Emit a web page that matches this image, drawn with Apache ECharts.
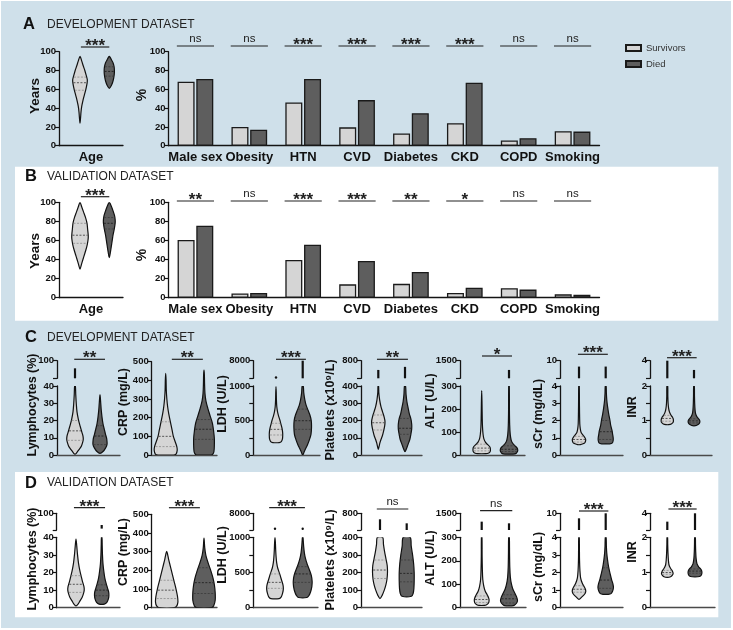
<!DOCTYPE html>
<html><head><meta charset="utf-8">
<script src="https://cdn.jsdelivr.net/npm/echarts@6/dist/echarts.min.js"></script>
<style>html,body{margin:0;padding:0;background:#fff}#c{width:733px;height:630px}</style>
</head><body><div id="c"></div><script>
// ===================== DATA =====================
const barCategories = ['Male sex','Obesity','HTN','CVD','Diabetes','CKD','COPD','Smoking'];
const devSurvivors = [68, 20, 46, 19.5, 13, 24, 5.5, 15.5];
const devDied      = [71, 17, 71, 48.5, 34.5, 67, 8, 15];
const devBarSig    = ['ns','ns','***','***','***','***','ns','ns'];
const valSurvivors = [60.5, 4.5, 39.5, 14, 14.5, 5, 10, 3.5];
const valDied      = [75.5, 5, 55.5, 38.5, 27, 10.5, 8.5, 3];
const valBarSig    = ['**','ns','***','***','**','*','ns','ns'];
const groups = ['Survivors','Died'];

// violin profiles: [value, half-width in group-spacing units]; quartiles [q1, median, q3]
const devAgeSurv = [[24,0],[30,0.02],[36,0.035],[42,0.06],[48,0.1],[54,0.15],[60,0.2],[66,0.24],[70,0.25],[75,0.21],[80,0.165],[85,0.11],[90,0.06],[95,0]];
const devAgeSurvQ = [59,67,73];
const devAgeDied = [[61,0],[64,0.07],[68,0.12],[72,0.15],[76,0.17],[80,0.175],[84,0.165],[88,0.13],[91,0.08],[94,0.03],[95,0]];
const devAgeDiedQ = [74,79,84];
const devAgeSig = '***';
const valAgeSurv = [[30,0],[35,0.05],[40,0.1],[45,0.15],[50,0.2],[56,0.25],[62,0.28],[66,0.28],[72,0.26],[78,0.24],[84,0.19],[90,0.12],[95,0.06],[100,0]];
const valAgeSurvQ = [57,65.5,78];
const valAgeDied = [[42,0],[48,0.04],[54,0.07],[60,0.1],[66,0.13],[72,0.17],[78,0.2],[82,0.2],[86,0.18],[90,0.14],[95,0.08],[100,0]];
const valAgeDiedQ = [72,78,84];
const valAgeSig = '***';

// lab variables
const labNames = ['Lymphocytes (%)','CRP (mg/L)','LDH (U/L)','Platelets (x10\u2079/L)','ALT (U/L)','sCr (mg/dL)','INR'];
const labLowerMax = [40, 500, 1000, 400, 300, 4, 2];
const labUpperMax = [100, null, 8000, 800, 1500, 10, 4];
const labTickStep = [10, 100, 250, 100, 100, 1, 0.5];
const labLabelStep = [10, 100, 500, 100, 100, 1, 1];
const devLabSig = ['**','**','***','**','*','***','***'];
const valLabSig = ['***','***','***','ns','ns','***','***'];

// development dataset
const devLymSurv = [[0.5,0],[1,0.05],[3,0.15],[5,0.25],[7,0.3],[9,0.33],[11,0.32],[13,0.28],[15,0.24],[18,0.18],[21,0.13],[25,0.08],[30,0.05],[35,0.03],[40,0.015]];
const devLymSurvQ = [8.5,14,20];
const devLymSurvUp = [40,74];
const devLymDied = [[1,0],[2,0.12],[4,0.22],[6,0.28],[8,0.28],[10,0.26],[12,0.22],[15,0.17],[18,0.12],[22,0.08],[26,0.05],[30,0.03],[35,0]];
const devLymDiedQ = [6,11,17];
const devLymDiedUp = null;
const devCrpSurv = [[0,0.2],[5,0.27],[25,0.3],[45,0.29],[70,0.25],[100,0.2],[130,0.17],[160,0.14],[190,0.11],[220,0.08],[260,0.05],[300,0.03],[350,0.015],[400,0.01],[437,0]];
const devCrpSurvQ = [45,100,178];
const devCrpDied = [[0,0.18],[5,0.23],[20,0.26],[50,0.27],[90,0.27],[130,0.25],[170,0.22],[210,0.16],[250,0.1],[290,0.05],[330,0.025],[380,0.015],[430,0.01],[455,0]];
const devCrpDiedQ = [84,138,190];
const devLdhSurv = [[180,0.12],[195,0.2],[230,0.24],[270,0.25],[320,0.25],[380,0.23],[440,0.19],[500,0.15],[560,0.1],[620,0.06],[700,0.03],[800,0.015],[900,0.01],[990,0]];
const devLdhSurvQ = [290,372,460];
const devLdhSurvUp = [1300,1300];
const devLdhDied = [[0,0],[50,0.06],[100,0.12],[150,0.18],[220,0.25],[300,0.31],[400,0.33],[500,0.32],[580,0.27],[650,0.2],[720,0.13],[800,0.08],[900,0.04],[1000,0.02]];
const devLdhDiedQ = [372,497,665];
const devLdhDiedUp = [1000,8000];
const devPltSurv = [[33,0],[50,0.03],[70,0.06],[90,0.1],[110,0.15],[140,0.2],[170,0.24],[195,0.25],[220,0.22],[250,0.16],[280,0.1],[320,0.05],[360,0.02],[400,0.01]];
const devPltSurvQ = [145,187,232];
const devPltSurvUp = [400,590];
const devPltDied = [[19,0],[35,0.05],[60,0.11],[90,0.18],[120,0.22],[150,0.25],[180,0.25],[210,0.22],[240,0.16],[270,0.12],[310,0.07],[350,0.04],[400,0.02]];
const devPltDiedQ = [120,155,212];
const devPltDiedUp = [400,660];
const devAltSurv = [[6,0.15],[9,0.26],[15,0.31],[25,0.32],[35,0.3],[45,0.22],[55,0.14],[70,0.08],[90,0.05],[120,0.03],[160,0.02],[220,0.012],[280,0]];
const devAltSurvQ = [18,30,47];
const devAltSurvUp = null;
const devAltDied = [[4,0.15],[7,0.26],[15,0.31],[22,0.32],[30,0.3],[40,0.22],[50,0.14],[65,0.08],[90,0.045],[130,0.025],[200,0.015],[300,0.01]];
const devAltDiedQ = [15,25,40];
const devAltDiedUp = [300,870];
const devScrSurv = [[0.6,0.05],[0.65,0.15],[0.72,0.22],[0.85,0.25],[0.95,0.24],[1.05,0.2],[1.15,0.15],[1.3,0.08],[1.5,0.05],[1.8,0.03],[2.5,0.02],[3.2,0.015],[4,0.01]];
const devScrSurvQ = [0.75,0.9,1.08];
const devScrSurvUp = [4,8];
const devScrDied = [[0.65,0.15],[0.7,0.25],[0.85,0.28],[1.0,0.28],[1.2,0.26],[1.4,0.24],[1.7,0.19],[2.0,0.16],[2.4,0.11],[2.8,0.07],[3.2,0.04],[3.6,0.025],[4,0.015]];
const devScrDiedQ = [0.9,1.35,2.0];
const devScrDiedUp = [4,8];
const devInrSurv = [[0.88,0.05],[0.9,0.15],[0.95,0.22],[1.0,0.23],[1.05,0.22],[1.1,0.19],[1.15,0.14],[1.25,0.08],[1.35,0.05],[1.5,0.03],[1.7,0.02],[2,0.015]];
const devInrSurvQ = [0.98,1.06,1.15];
const devInrSurvUp = [2,4];
const devInrDied = [[0.85,0.05],[0.87,0.12],[0.92,0.2],[0.97,0.22],[1.02,0.2],[1.07,0.15],[1.12,0.1],[1.2,0.06],[1.3,0.04],[1.5,0.025],[1.7,0.018],[2,0.012]];
const devInrDiedQ = [0.93,0.99,1.05];
const devInrDiedUp = [2,2.95];

// validation dataset
const valLymSurv = [[1,0],[2,0.08],[4,0.16],[6,0.24],[8,0.29],[10,0.32],[12,0.31],[15,0.25],[18,0.2],[21,0.15],[25,0.1],[30,0.06],[35,0.03],[39,0]];
const valLymSurvQ = [8.7,13.3,18.2];
const valLymSurvUp = null;
const valLymDied = [[2,0.1],[3,0.2],[5,0.26],[7,0.28],[9,0.27],[11,0.23],[14,0.17],[17,0.12],[21,0.08],[25,0.05],[30,0.03],[35,0.02],[40,0.01]];
const valLymDiedQ = [6.8,10,13];
const valLymDiedUp = [45,58];
const valCrpSurv = [[0,0.2],[10,0.27],[30,0.3],[60,0.29],[100,0.25],[140,0.2],[180,0.15],[220,0.1],[260,0.05],[290,0.02],[302,0]];
const valCrpSurvQ = [49,94,147];
const valCrpDied = [[0,0.2],[10,0.26],[40,0.3],[80,0.3],[120,0.28],[160,0.24],[200,0.18],[240,0.11],[280,0.05],[320,0.02],[373,0]];
const valCrpDiedQ = [76,134,214];
const valLdhSurv = [[130,0.15],[150,0.22],[200,0.27],[260,0.3],[320,0.29],[400,0.23],[480,0.17],[560,0.1],[640,0.06],[720,0.04],[820,0.025],[920,0.015],[1000,0]];
const valLdhSurvQ = [275,360,480];
const valLdhSurvUp = [1500,1500];
const valLdhDied = [[145,0.15],[170,0.22],[220,0.28],[300,0.33],[380,0.34],[460,0.31],[540,0.24],[620,0.16],[700,0.1],[780,0.06],[870,0.035],[950,0.02],[1000,0.01]];
const valLdhDiedQ = [360,480,583];
const valLdhDiedUp = [1500,1500];
const valPltSurv = [[52,0],[70,0.08],[100,0.16],[130,0.22],[160,0.26],[200,0.28],[240,0.27],[280,0.22],[320,0.17],[360,0.13],[400,0.1]];
const valPltSurvQ = [166,214,271];
const valPltSurvUp = [400,656];
const valPltDied = [[65,0.18],[80,0.24],[110,0.27],[150,0.28],[200,0.28],[250,0.26],[300,0.22],[350,0.17],[400,0.13]];
const valPltDiedQ = [147,195,271];
const valPltDiedUp = [400,560];
const valAltSurv = [[10,0.1],[13,0.18],[20,0.25],[30,0.27],[40,0.26],[55,0.2],[70,0.13],[90,0.08],[120,0.04],[160,0.025],[220,0.015],[300,0.01]];
const valAltSurvQ = [22,35,50];
const valAltSurvUp = [300,900];
const valAltDied = [[8,0.1],[11,0.2],[20,0.28],[30,0.31],[42,0.29],[60,0.22],[80,0.14],[100,0.09],[130,0.05],[170,0.03],[230,0.02],[300,0.012]];
const valAltDiedQ = [20,38,55];
const valAltDiedUp = [300,780];
const valScrSurv = [[0.47,0],[0.6,0.1],[0.75,0.2],[0.9,0.25],[1.05,0.24],[1.2,0.19],[1.4,0.12],[1.7,0.06],[2.1,0.035],[2.7,0.02],[3.4,0.015],[4,0.01]];
const valScrSurvQ = [0.88,1.05,1.25];
const valScrSurvUp = [4,8.2];
const valScrDied = [[0.76,0.1],[0.8,0.2],[0.95,0.26],[1.15,0.29],[1.35,0.27],[1.6,0.22],[1.9,0.17],[2.3,0.11],[2.7,0.07],[3.1,0.04],[3.5,0.025],[4,0.015]];
const valScrDiedQ = [1.1,1.57,2.27];
const valScrDiedUp = [4,10];
const valInrSurv = [[0.86,0],[0.88,0.12],[0.93,0.19],[0.98,0.21],[1.03,0.19],[1.08,0.15],[1.14,0.1],[1.22,0.06],[1.35,0.04],[1.55,0.025],[1.8,0.015],[2,0.01]];
const valInrSurvQ = [0.95,1.0,1.06];
const valInrSurvUp = [2,3];
const valInrDied = [[0.88,0.1],[0.9,0.2],[0.95,0.24],[1.0,0.25],[1.05,0.24],[1.1,0.2],[1.16,0.13],[1.25,0.07],[1.4,0.04],[1.6,0.025],[1.8,0.018],[2,0.012]];
const valInrDiedQ = [0.98,1.04,1.1];
const valInrDiedUp = [2,4];

// ===================== LAYOUT / STYLE =====================
const FONT = '"Liberation Sans", Arial, Helvetica, sans-serif';
const AX = '#141414';
const FILL_S = '#d5d5d5', FILL_D = '#5e5e5e';
const option = {animation:false, grid:[], xAxis:[], yAxis:[], series:[], graphic:[]};
const plain = function(v){ return String(v); };

function addGrid(g, xa, ya){
  option.grid.push(Object.assign({containLabel:false}, g));
  const i = option.grid.length-1;
  xa.gridIndex = i; ya.gridIndex = i;
  option.xAxis.push(xa); option.yAxis.push(ya);
  return i;
}
function yAx(min, max, interval, fmt, extra){
  return Object.assign({type:'value', min, max, interval,
    axisLine:{show:true, onZero:false, lineStyle:{color:AX, width:1.3}},
    axisTick:{show:true, length:4, lineStyle:{color:AX, width:1.2}},
    axisLabel:{color:'#111', fontWeight:'bold', fontSize:9.5, fontFamily:FONT, margin:3, formatter:fmt||plain},
    splitLine:{show:false}}, extra||{});
}
function xValAx(min, max, showLine, color, extra){
  return Object.assign({type:'value', min, max,
    axisLine:{show:showLine, onZero:false, lineStyle:{color:color||AX, width:1.3}},
    axisTick:{show:false}, axisLabel:{show:false}, splitLine:{show:false}}, extra||{});
}
function widthAt(p, v){
  for (let i=0;i<p.length-1;i++){const a=p[i],b=p[i+1]; if(v>=a[0]&&v<=b[0]) return a[1]+(b[1]-a[1])*(v-a[0])/(b[0]-a[0]);}
  return 0;
}
function violin(gi, xPos, profile, quart, fill, isDied){
  return {type:'custom', xAxisIndex:gi, yAxisIndex:gi, clip:true, silent:true, z:3,
    data:[[xPos, quart[1]]],
    renderItem:function(params, api){
      const pts=[];
      profile.forEach(function(d){pts.push(api.coord([xPos+d[1], d[0]]));});
      for(let i=profile.length-1;i>=0;i--){const d=profile[i]; if(d[1]>0) pts.push(api.coord([xPos-d[1], d[0]]));}
      const ch=[{type:'polygon', shape:{points:pts, smooth:0.3}, style:{fill:fill, stroke:'#111', lineWidth:1.2}}];
      quart.forEach(function(q,k){
        const w=widthAt(profile,q)*0.92;
        const a=api.coord([xPos-w,q]), b=api.coord([xPos+w,q]);
        ch.push({type:'line', shape:{x1:a[0],y1:a[1],x2:b[0],y2:b[1]},
          style:{stroke: k===1 ? (isDied?'#1a1a1a':'#333') : (isDied?'#3a3a3a':'#8a8a8a'), lineWidth:0.8, lineDash:[2,1.5]}});
      });
      return {type:'group', children:ch};
    }};
}
function tail(gi, xPos, t){
  return {type:'custom', xAxisIndex:gi, yAxisIndex:gi, clip:false, silent:true, z:3, data:[[xPos,t[0]]],
    renderItem:function(params, api){
      const a=api.coord([xPos,t[0]]), b=api.coord([xPos,t[1]]);
      const cs=params.coordSys;
      if (t[0]===t[1]) return {type:'circle', shape:{cx:a[0], cy:a[1], r:1.2}, style:{fill:'#111'}};
      const y1=Math.min(a[1], cs.y+cs.height);
      return {type:'line', shape:{x1:a[0],y1:y1,x2:b[0],y2:Math.max(b[1],cs.y)}, style:{stroke:'#111', lineWidth:2.2}};
    }};
}
function sigText(x, y, label){
  const star = label.indexOf('*')>=0;
  return {type:'text', x:x, y: star ? y-0.5 : y-1,
    style:{text:label, fill:'#222', fontFamily:FONT, fontSize: star?17:11.5, fontWeight: star?'bold':'normal',
      align:'center', verticalAlign: star?'middle':'bottom'}};
}
function sig(gi, x0, x1, y, label){
  return {type:'custom', xAxisIndex:gi, yAxisIndex:gi, clip:false, silent:true, z:4, data:[[x0,0]],
    renderItem:function(params, api){
      const a=api.coord([x0,0])[0], b=api.coord([x1,0])[0];
      return {type:'group', children:[
        {type:'line', shape:{x1:a,y1:y,x2:b,y2:y}, style:{stroke:'#222', lineWidth:1.2}},
        sigText((a+b)/2, y, label)]};
    }};
}
function rotTitle(x, y, text, size){
  option.graphic.push({type:'text', x:x, y:y, rotation:Math.PI/2, z:10,
    style:{text:text, fill:'#111', fontFamily:FONT, fontWeight:'bold', fontSize:size||12.5, align:'center', verticalAlign:'middle'}});
}

// backgrounds & titles
option.graphic.push({type:'rect', z:-10, shape:{x:1,y:1,width:730,height:627}, style:{fill:'#cfe0ea'}});
option.graphic.push({type:'rect', z:-9, shape:{x:15,y:166.7,width:703.3,height:154}, style:{fill:'#ffffff'}});
option.graphic.push({type:'rect', z:-9, shape:{x:15,y:472,width:703.3,height:145.3}, style:{fill:'#ffffff'}});
[['A','DEVELOPMENT DATASET',23,24.2],['B','VALIDATION DATASET',25,176.7],['C','DEVELOPMENT DATASET',25,337.5],['D','VALIDATION DATASET',25,483]].forEach(function(t){
  option.graphic.push({type:'text', x:t[2], y:t[3], z:10, style:{text:t[0], fill:'#111', fontFamily:FONT, fontWeight:'bold', fontSize:16.5, verticalAlign:'middle'}});
  option.graphic.push({type:'text', x:47, y:t[3], z:10, style:{text:t[1], fill:'#222', fontFamily:FONT, fontSize:12, verticalAlign:'middle'}});
});

// ---------- panels A & B ----------
function topPanel(top, zero, ageS, ageSQ, ageD, ageDQ, ageSig, ageSigY, surv, died, barSig, barSigY, yearsY, pctY){
  const h = zero-top;
  const gA = addGrid({left:59, top:top, width:64, height:h},
    xValAx(-0.717, 1.468, true, AX, {name:'Age', nameLocation:'middle', nameGap:5, nameMoveOverlap:false,
      nameTextStyle:{fontFamily:FONT, fontWeight:'bold', fontSize:13, color:'#111', verticalAlign:'top'}}),
    yAx(0,100,20,null));
  rotTitle(35, yearsY, 'Years', 13.5);
  option.series.push(violin(gA, 0, ageS, ageSQ, FILL_S, false));
  option.series.push(violin(gA, 1, ageD, ageDQ, FILL_D, true));
  option.series.push(sig(gA, 0.03, 1.0, ageSigY, ageSig));
  const gB = addGrid({left:168.5, top:top, width:431, height:h},
    {type:'category', data:barCategories, axisLine:{show:true, onZero:false, lineStyle:{color:AX,width:1.3}},
     axisTick:{show:false}, axisLabel:{interval:0, color:'#111', fontFamily:FONT, fontWeight:'bold', fontSize:13, margin:5}},
    yAx(0,100,20,null));
  rotTitle(142.5, pctY, '%', 14);
  option.series.push({type:'bar', name:groups[0], xAxisIndex:gB, yAxisIndex:gB, data:surv, barWidth:17, barGap:'10%',
    itemStyle:{color:FILL_S, borderColor:'#1a1a1a', borderWidth:1.3}});
  option.series.push({type:'bar', name:groups[1], xAxisIndex:gB, yAxisIndex:gB, data:died, barWidth:17, barGap:'10%',
    itemStyle:{color:FILL_D, borderColor:'#1a1a1a', borderWidth:1.3}});
  option.series.push({type:'custom', xAxisIndex:gB, yAxisIndex:gB, clip:false, silent:true, z:4,
    data: barSig.map(function(s,i){return [i,100];}),
    renderItem:function(params, api){
      const c=api.coord([api.value(0),100])[0]; const bw=api.size([1,0])[0];
      const a=c-0.345*bw, b=c+0.345*bw;
      return {type:'group', children:[{type:'line', shape:{x1:a,y1:barSigY,x2:b,y2:barSigY}, style:{stroke:'#222', lineWidth:1.2}},
        sigText(c, barSigY, barSig[params.dataIndex])]};
    }});
}
topPanel(51.7, 145.7, devAgeSurv, devAgeSurvQ, devAgeDied, devAgeDiedQ, devAgeSig, 47, devSurvivors, devDied, devBarSig, 46, 96, 95);
topPanel(202.3, 297.7, valAgeSurv, valAgeSurvQ, valAgeDied, valAgeDiedQ, valAgeSig, 196.7, valSurvivors, valDied, valBarSig, 201, 251, 255);

option.legend = {data:groups, orient:'vertical', left:620, top:38, itemWidth:15, itemHeight:6, itemGap:6, icon:'rect', selectedMode:false,
  textStyle:{fontFamily:FONT, fontSize:9.5, color:'#333'}};

// ---------- panels C & D ----------
const devProfiles = [[devLymSurv,devLymSurvQ,devLymSurvUp,devLymDied,devLymDiedQ,devLymDiedUp],
  [devCrpSurv,devCrpSurvQ,null,devCrpDied,devCrpDiedQ,null],
  [devLdhSurv,devLdhSurvQ,devLdhSurvUp,devLdhDied,devLdhDiedQ,devLdhDiedUp],
  [devPltSurv,devPltSurvQ,devPltSurvUp,devPltDied,devPltDiedQ,devPltDiedUp],
  [devAltSurv,devAltSurvQ,devAltSurvUp,devAltDied,devAltDiedQ,devAltDiedUp],
  [devScrSurv,devScrSurvQ,devScrSurvUp,devScrDied,devScrDiedQ,devScrDiedUp],
  [devInrSurv,devInrSurvQ,devInrSurvUp,devInrDied,devInrDiedQ,devInrDiedUp]];
const valProfiles = [[valLymSurv,valLymSurvQ,valLymSurvUp,valLymDied,valLymDiedQ,valLymDiedUp],
  [valCrpSurv,valCrpSurvQ,null,valCrpDied,valCrpDiedQ,null],
  [valLdhSurv,valLdhSurvQ,valLdhSurvUp,valLdhDied,valLdhDiedQ,valLdhDiedUp],
  [valPltSurv,valPltSurvQ,valPltSurvUp,valPltDied,valPltDiedQ,valPltDiedUp],
  [valAltSurv,valAltSurvQ,valAltSurvUp,valAltDied,valAltDiedQ,valAltDiedUp],
  [valScrSurv,valScrSurvQ,valScrSurvUp,valScrDied,valScrDiedQ,valScrDiedUp],
  [valInrSurv,valInrSurvQ,valInrSurvUp,valInrDied,valInrDiedQ,valInrDiedUp]];

// layout: [axisX, rightX, centre0, centre1], sig x-range (group units), sig y, title x, title y
const rowC = {zero:455, lowTop:386, upBot:378.3, upTop:360.7,
  cols:[[57,120,75,100],[151.7,217,165.7,204],[253.3,320,276,302.7],[361,422,378.3,405],[460,525,481.7,509],[560,623,579,605.7],[650,712,667.3,694]],
  sigX:[[-0.03,1.2],[0.16,0.97],[0,1.12],[-0.05,1.11],[0.01,1.11],[-0.04,1.08],[-0.01,1.1]],
  sigY:[359.3,359.3,359.3,359.3,356,354.3,357.7],
  titleX:[33,124,223,331,431,539,633], titleY:[405,402,404,410,401,414,407]};
const rowD = {zero:607.7, lowTop:537.3, upBot:530, upTop:513.3,
  cols:[[56.7,120,76,101.7],[151.7,217,166.7,204],[253.3,318,275,302.7],[361,422,380,406.7],[460,526,481.7,509],[560,623,579,605.7],[650,715,667.3,695]],
  sigX:[[-0.08,1.13],[0.06,0.89],[-0.21,1.08],[-0.12,1.06],[-0.06,1.12],[0,1.1],[0.04,1.06]],
  sigY:[507.7,507.7,507.7,509,510.7,511,509],
  titleX:[33,124,223,331,431,539,633], titleY:[559,552,555,560,558,567,552]};

function labRow(row, profiles, sigs){
  for (let j=0;j<7;j++){
    const c=row.cols[j]; const sp=c[3]-c[2];
    const xmin=-(c[2]-c[0])/sp, xmax=1+(c[1]-c[3])/sp;
    const brk = labUpperMax[j]!==null;
    const lowTop = brk ? row.lowTop : row.upTop+1;
    const step=labLabelStep[j];
    const fmt=function(v){const r=v/step; return Math.abs(r-Math.round(r))<1e-6 ? String(v) : '';};
    const gl = addGrid({left:c[0], top:lowTop, width:c[1]-c[0], height:row.zero-lowTop},
      xValAx(xmin, xmax, true, '#4a4a4a'), yAx(0, labLowerMax[j], labTickStep[j], fmt));
    const P=profiles[j];
    option.series.push(violin(gl, 0, P[0], P[1], FILL_S, false));
    option.series.push(violin(gl, 1, P[3], P[4], FILL_D, true));
    let gs = gl;
    if (brk){
      const lo=labLowerMax[j], hi=labUpperMax[j];
      const gu = addGrid({left:c[0], top:row.upTop, width:c[1]-c[0], height:row.upBot-row.upTop},
        xValAx(xmin, xmax, false),
        yAx(lo, hi, hi-lo, null, {}));
      option.yAxis[gu].axisTick.customValues=[lo,hi];
      option.yAxis[gu].axisLabel.customValues=[hi];
      if (P[2]) option.series.push(tail(gu, 0, P[2]));
      if (P[5]) option.series.push(tail(gu, 1, P[5]));
      gs = gu;
    }
    option.series.push(sig(gs, row.sigX[j][0], row.sigX[j][1], row.sigY[j], sigs[j]));
    rotTitle(row.titleX[j], row.titleY[j], labNames[j]);
  }
}
labRow(rowC, devProfiles, devLabSig);
labRow(rowD, valProfiles, valLabSig);

const chart = echarts.init(document.getElementById('c'), null, {renderer:'canvas', width:733, height:630});
chart.setOption(option);
</script></body></html>
